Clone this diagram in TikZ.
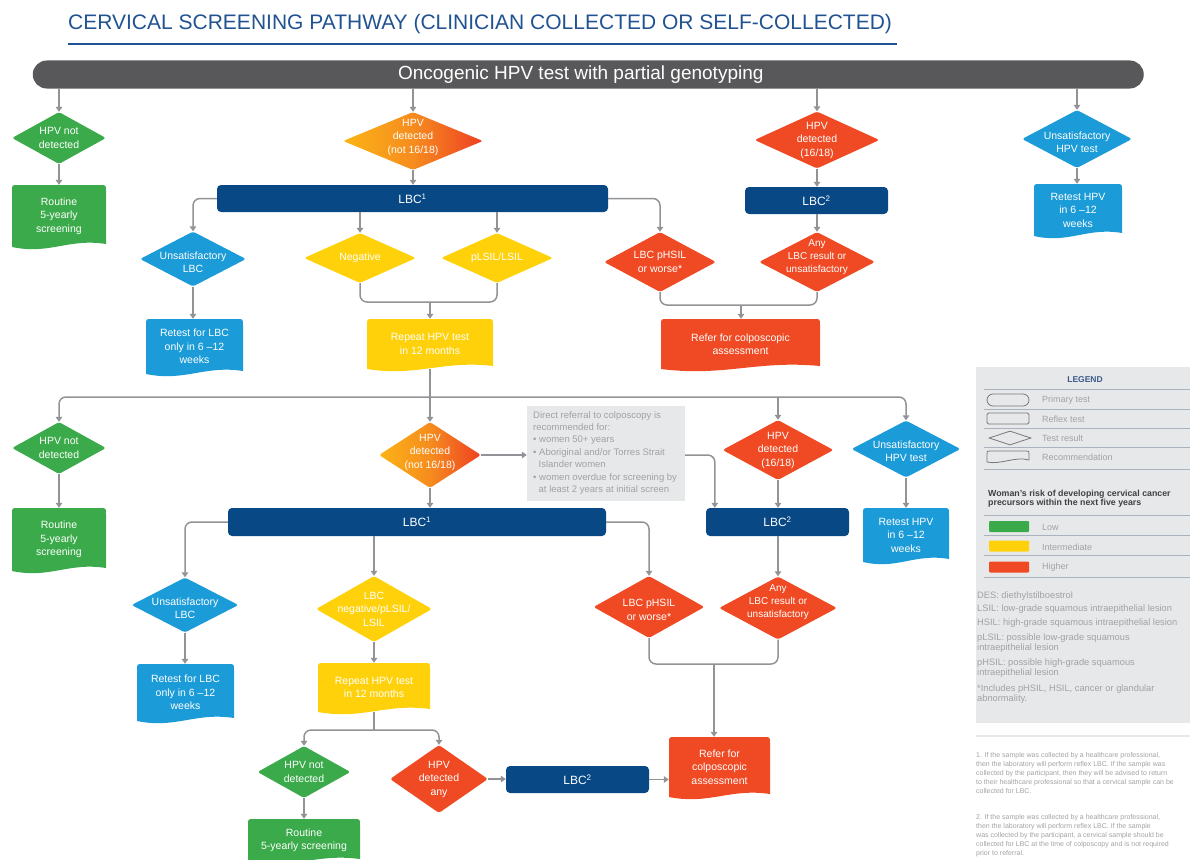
\documentclass[tikz,border=0pt]{standalone}
\usepackage{fontspec}
\setmainfont{Liberation Sans}
\usetikzlibrary{shapes.geometric,arrows.meta,calc}

\definecolor{cgreen}{RGB}{59,170,74}
\definecolor{cyellow}{RGB}{254,209,10}
\definecolor{cred}{RGB}{239,74,35}
\definecolor{cblue}{RGB}{27,155,215}
\definecolor{cnavy}{RGB}{8,72,133}
\definecolor{cbar}{RGB}{88,88,90}
\definecolor{ctitle}{RGB}{33,82,145}
\definecolor{cline}{RGB}{145,147,150}
\definecolor{cboxbg}{RGB}{231,232,233}
\definecolor{cgtext}{RGB}{160,162,165}
\definecolor{gradA}{RGB}{251,180,22}
\definecolor{gradB}{RGB}{246,140,30}
\definecolor{gradC}{RGB}{238,64,35}
\definecolor{clegline}{RGB}{170,178,192}
\definecolor{clegicon}{RGB}{120,120,122}
\definecolor{clegtitle}{RGB}{60,90,140}
\definecolor{cdark}{RGB}{64,64,66}

\tikzset{
  wtext/.style={text=white, align=center, inner sep=0pt, font=\fontsize{10.5}{13.5}\selectfont},
  narrow/.style={font=\fontsize{10}{13.3}\selectfont},
  dia/.style={diamond, inner sep=0pt, rounded corners=2.5pt},
  grad/.style={left color=gradA, right color=gradC, middle color=gradB},
  lbcbar/.style={fill=cnavy, rounded corners=4pt, inner sep=0pt, text=white, font=\fontsize{12}{14}\selectfont},
  doctext/.style={text=white, align=center, inner sep=0pt, font=\fontsize{10.5}{13.5}\selectfont},
  conn/.style={draw=cline, line width=1.5pt, rounded corners=7pt},
  arr/.style={conn, -{Triangle[width=6.5pt,length=5pt]}},
  legtext/.style={anchor=west, inner sep=0pt, text=cgtext, font=\fontsize{9}{11}\selectfont},
  abbr/.style={anchor=north west, inner sep=0pt, align=left, text=cgtext, font=\fontsize{9.3}{10.5}\selectfont},
  foot/.style={anchor=north west, inner sep=0pt, align=left, text=cgtext, font=\fontsize{7}{9}\selectfont},
  legline/.style={draw=clegline, line width=0.8pt},
  legicon/.style={draw=clegicon, line width=0.8pt, inner sep=0pt},
  swatch/.style={inner sep=0pt, rounded corners=1pt, minimum width=40pt, minimum height=11pt}
}

% diamond: [label opts], name, x, y, w, h, fill opts, text
\newcommand\dia[8][]{%
  \node[dia, #7, minimum width=#5pt, minimum height=#6pt, label={[wtext,#1]center:#8}] (#2) at (#3,#4) {};}
% document shape: name, x0, x1, top, bottom, colour, text
\newcommand\docnode[7]{%
  \fill[#6] ({#2},{#5}) -- ({#2},{#4+6}) .. controls ({#2},{#4}) .. ({#2+6},{#4}) -- ({#3-6},{#4}) .. controls ({#3},{#4}) .. ({#3},{#4+6}) -- ({#3},{#5-3}) .. controls ({#3-0.4*(#3-#2)},{#5-9}) and ({#2+0.4*(#3-#2)},{#5+8}) .. ({#2},{#5}) -- cycle;
  \node[doctext, minimum width={#3-#2}, minimum height={#5-#4}] (#1) at ({(#2+#3)/2},{(#4+#5)/2}) {#7};}

\begin{document}
\begin{tikzpicture}[x=1pt,y=-1pt]
\useasboundingbox (0,0) rectangle (1190,859);

% ---------- title ----------
\node[anchor=base west, inner sep=0pt, text=ctitle, font=\fontsize{21}{24}\selectfont] (title) at (68,30) {CERVICAL SCREENING PATHWAY (CLINICIAN COLLECTED OR SELF-COLLECTED)};
\draw[ctitle, line width=2pt] (68,44) -- (897,44);

% ---------- primary test bar ----------
\node[fill=cbar, rounded corners=14pt, minimum width=1111pt, minimum height=28pt, inner sep=0pt,
  label={[text=white, inner sep=0pt, font=\fontsize{19}{20}\selectfont, xshift=-7.5pt]center:Oncogenic HPV test with partial genotyping}] (top) at (588.25,74.5) {};

% ---------- row 1 ----------
\dia{g1}{59}{138}{94}{52}{fill=cgreen}{HPV not\\detected}
\docnode{r1}{12}{106}{185}{247}{cgreen}{Routine\\5-yearly\\screening}
\dia[yshift=4pt]{o1}{413}{141}{140}{58}{grad}{HPV\\detected\\(not 16/18)}
\node[lbcbar, minimum width=391pt, minimum height=27pt] (lbc1) at (412.5,198.5) {LBC\textsuperscript{1}};
\dia[yshift=-3pt]{u1}{193}{259}{106}{55}{fill=cblue}{Unsatisfactory\\LBC}
\docnode{rt1}{146}{243}{319}{374}{cblue}{Retest for LBC\\only in 6 –12\\weeks}
\dia{neg}{360}{258}{112}{50}{fill=cyellow}{Negative}
\dia{pl}{497}{258}{112}{50}{fill=cyellow}{pLSIL/LSIL}
\docnode{rp1}{367}{493}{319}{369}{cyellow}{Repeat HPV test\\in 12 months}
\dia{p1}{660}{262}{112}{60}{fill=cred}{LBC pHSIL\\or worse*}
\dia{d1}{817}{140}{125}{57}{fill=cred}{HPV\\detected\\(16/18)}
\node[lbcbar, minimum width=143pt, minimum height=27pt] (lbc2) at (816.5,200.5) {LBC\textsuperscript{2}};
\dia[narrow,yshift=5pt]{a1}{817}{262}{116}{60}{fill=cred}{Any\\LBC result or\\unsatisfactory}
\docnode{rf1}{661}{820}{319}{369}{cred}{Refer for colposcopic\\assessment}
\dia[yshift=-3pt]{uh1}{1077}{139}{110}{58}{fill=cblue}{Unsatisfactory\\HPV test}
\docnode{rh1}{1034}{1122}{184}{236}{cblue}{Retest HPV\\in 6 –12\\weeks}

\draw[arr] (top.south -| g1.north) -- (g1.north);
\draw[arr] (top.south -| o1.north) -- (o1.north);
\draw[arr] (top.south -| d1.north) -- (d1.north);
\draw[arr] (top.south -| uh1.north) -- (uh1.north);
\draw[arr] (g1.south) -- (g1.south |- r1.north);
\draw[arr] (o1.south) -- (o1.south |- lbc1.north);
\draw[arr] (d1.south) -- (d1.south |- lbc2.north);
\draw[arr] (uh1.south) -- (uh1.south |- rh1.north);
\draw[arr] (lbc1.west) -| (u1.north);
\draw[arr] (lbc1.south -| neg.north) -- (neg.north);
\draw[arr] (lbc1.south -| pl.north) -- (pl.north);
\draw[arr] (lbc1.east) -| (p1.north);
\draw[arr] (u1.south) -- (u1.south |- rt1.north);
\draw[arr] (lbc2.south -| a1.north) -- (a1.north);
\coordinate (m1) at (430,302);
\draw[conn] (neg.south) |- (m1) -| (pl.south);
\draw[arr] (m1) -- (m1 |- rp1.north);
\coordinate (m2) at (741,305);
\draw[conn] (p1.south) |- (m2) -| (a1.south);
\draw[arr] (m2) -- (m2 |- rf1.north);

% ---------- row 2 ----------
\dia{g2}{59}{448}{94}{52}{fill=cgreen}{HPV not\\detected}
\docnode{r2}{12}{106}{508}{571}{cgreen}{Routine\\5-yearly\\screening}
\dia[yshift=3pt]{o2}{430}{455}{102}{66}{grad}{HPV\\detected\\(not 16/18)}
\node[fill=cboxbg, inner sep=0pt, minimum width=158pt, minimum height=95pt] (tb) at (606,453.5) {};
\node[anchor=north west, inner sep=0pt, align=left, text=cgtext, font=\fontsize{9.5}{12.4}\selectfont] (tbt) at (533,411) {Direct referral to colposcopy is\\recommended for:\\\textbullet\ women 50+ years\\\textbullet\ Aboriginal and/or Torres Strait\\\hspace*{5.5pt}Islander women\\\textbullet\ women overdue for screening by\\\hspace*{5.5pt}at least 2 years at initial screen};
\node[lbcbar, minimum width=378pt, minimum height=28pt] (lbc3) at (417,522) {LBC\textsuperscript{1}};
\node[lbcbar, minimum width=143pt, minimum height=28pt] (lbc4) at (777.5,522) {LBC\textsuperscript{2}};
\dia{d2}{778}{450}{111}{60}{fill=cred}{HPV\\detected\\(16/18)}
\dia[yshift=-2pt]{b2}{906}{449}{109}{57}{fill=cblue}{Unsatisfactory\\HPV test}
\docnode{rh2}{863}{949}{508}{562}{cblue}{Retest HPV\\in 6 –12\\weeks}
\dia[yshift=-3pt]{u2}{185}{605}{107}{55}{fill=cblue}{Unsatisfactory\\LBC}
\docnode{rt2}{137}{234}{664}{721}{cblue}{Retest for LBC\\only in 6 –12\\weeks}
\dia{y2}{374}{609}{116}{66}{fill=cyellow}{LBC\\negative/pLSIL/\\LSIL}
\docnode{rp2}{318}{430}{663}{712}{cyellow}{Repeat HPV test\\in 12 months}
\dia[yshift=-3pt]{p2}{649}{607}{111}{62}{fill=cred}{LBC pHSIL\\or worse*}
\dia[narrow,yshift=6pt]{a2}{778}{608}{118}{63}{fill=cred}{Any\\LBC result or\\unsatisfactory}
\docnode{rf2}{669}{770}{737}{797}{cred}{Refer for\\colposcopic\\assessment}

\coordinate (h1) at (430,397);
\draw[arr] (rp1.south) -- (o2.north);
\draw[arr] (h1) -| (g2.north);
\draw[arr] (h1) -| (b2.north);
\draw[arr] (h1 -| d2.north) -- (d2.north);
\draw[arr] (g2.south) -- (g2.south |- r2.north);
\draw[arr] (o2.east) -- (o2.east -| tb.west);
\draw[arr] (o2.east -| tb.east) -| ([xshift=9pt]lbc4.north west);
\draw[arr] (o2.south) -- (o2.south |- lbc3.north);
\draw[arr] (d2.south) -- (d2.south |- lbc4.north);
\draw[arr] (b2.south) -- (b2.south |- rh2.north);
\draw[arr] (lbc3.west) -| (u2.north);
\draw[arr] (u2.south) -- (u2.south |- rt2.north);
\draw[arr] (lbc3.south -| y2.north) -- (y2.north);
\draw[arr] (y2.south) -- (y2.south |- rp2.north);
\draw[arr] (lbc3.east) -| (p2.north);
\draw[arr] (lbc4.south -| a2.north) -- (a2.north);
\coordinate (m3) at (714,664);
\draw[conn] (p2.south) |- (m3) -| (a2.south);
\draw[arr] (m3) -- (m3 |- rf2.north);

% ---------- row 3 ----------
\dia{g3}{304}{772}{93}{52}{fill=cgreen}{HPV not\\detected}
\docnode{r3}{248}{360}{819}{862}{cgreen}{Routine\\5-yearly screening}
\dia{hd}{439}{779}{98}{68}{fill=cred}{HPV\\detected\\any}
\node[lbcbar, minimum width=143pt, minimum height=27pt] (lbc5) at (577.5,779.5) {LBC\textsuperscript{2}};
\coordinate (m4) at (374,730);
\draw[conn] (rp2.south) -- (m4);
\draw[arr] (m4) -| (g3.north);
\draw[arr] (m4) -| (hd.north);
\draw[arr] (g3.south) -- (g3.south |- r3.north);
\draw[arr] (hd.east) -- (hd.east -| lbc5.west);
\draw[arr] (lbc5.east) -- (lbc5.east -| rf2.west);

% ---------- legend ----------
\node[fill=cboxbg, inner sep=0pt, minimum width=219pt, minimum height=356pt] (legbox) at (1085.5,545) {};
\node[inner sep=0pt, text=clegtitle, font=\bfseries\fontsize{8.5}{10}\selectfont] (legt) at (1085,380) {LEGEND};
\foreach \yy in {389,409,428,447,469,515,535,555,577}
  \draw[legline] (984,\yy) -- (1190,\yy);
\node[legicon, rounded corners=6pt, minimum width=42pt, minimum height=12pt] (ip) at (1008,400) {};
\node[legicon, rounded corners=1.5pt, minimum width=42pt, minimum height=11pt] (ir) at (1008,418.5) {};
\node[legicon, diamond, minimum width=42pt, minimum height=14pt] (id) at (1010,438) {};
\draw[clegicon, line width=0.8pt] (987,462) -- (987,454) .. controls (987,451) .. (990,451) -- (1026,451) .. controls (1029,451) .. (1029,454) -- (1029,460) .. controls (1015,456) and (1001,465) .. (987,462) -- cycle;
\node[legtext] (lp) at (1042,400) {Primary test};
\node[legtext] (lr) at (1042,419) {Reflex test};
\node[legtext] (ld) at (1042,438) {Test result};
\node[legtext] (lc) at (1042,457) {Recommendation};
\node[anchor=north west, inner sep=0pt, align=left, text=cdark, font=\bfseries\fontsize{8.8}{9.2}\selectfont] (risk) at (988,490) {Woman’s risk of developing cervical cancer\\precursors within the next five years};
\node[swatch, fill=cgreen] (sw1) at (1009,526.5) {};
\node[swatch, fill=cyellow] (sw2) at (1009,546) {};
\node[swatch, fill=cred] (sw3) at (1009,567) {};
\node[legtext] (llow) at (1042,527) {Low};
\node[legtext] (lmid) at (1042,547) {Intermediate};
\node[legtext] (lhigh) at (1042,567) {Higher};
\node[abbr] (ab1) at (977,591.5) {DES: diethylstilboestrol};
\node[abbr] (ab2) at (977,604.5) {LSIL: low-grade squamous intraepithelial lesion};
\node[abbr] (ab3) at (977,618.5) {HSIL: high-grade squamous intraepithelial lesion};
\node[abbr] (ab4) at (977,633.5) {pLSIL: possible low-grade squamous\\intraepithelial lesion};
\node[abbr] (ab5) at (977,658.5) {pHSIL: possible high-grade squamous\\intraepithelial lesion};
\node[abbr] (ab6) at (977,684.5) {*Includes pHSIL, HSIL, cancer or glandular\\abnormality.};

% ---------- footnotes ----------
\draw[draw=cboxbg, line width=1.5pt] (976,736) -- (1190,736);
\node[foot] (fn1) at (976,752) {1. If the sample was collected by a healthcare professional,\\then the laboratory will perform reflex LBC. If the sample was\\collected by the participant, then they will be advised to return\\to their healthcare professional so that a cervical sample can be\\collected for LBC.};
\node[foot] (fn2) at (976,814) {2. If the sample was collected by a healthcare professional,\\then the laboratory will perform reflex LBC. If the sample\\was collected by the participant, a cervical sample should be\\collected for LBC at the time of colposcopy and is not required\\prior to referral.};
\end{tikzpicture}
\end{document}
